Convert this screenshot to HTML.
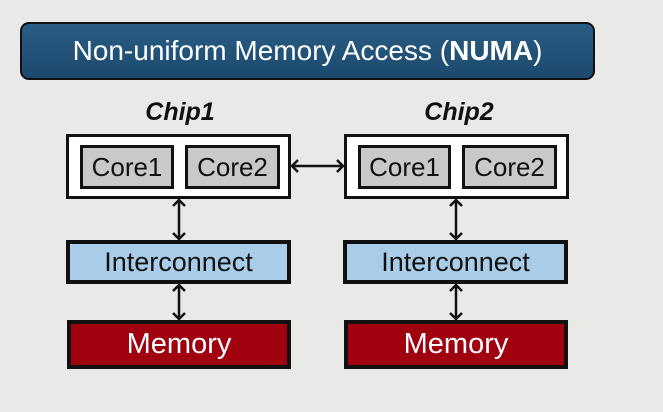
<!DOCTYPE html>
<html><head><meta charset="utf-8"><style>
body{margin:0;width:663px;height:412px;background:#e9e9e8;overflow:hidden;position:relative;font-family:"Liberation Sans","DejaVu Sans",sans-serif}
.a{position:absolute;box-sizing:border-box;display:flex;align-items:center;justify-content:center;white-space:nowrap}
.title{left:20px;top:22px;width:575px;height:58px;background:linear-gradient(#2a5c84,#1c4a6e);border:2px solid #111;border-radius:9px;color:#fff;font-size:28px}
.lbl{font-weight:bold;font-style:italic;font-size:25px;color:#111;width:224px;height:28px}
.chip{border:3px solid #111;background:#fff}
.core{border:3px solid #111;background:#c9c9c9;font-size:26px;color:#111}
.ic{border:4px solid #111;background:#a9cde8;font-size:27px;color:#111}
.mem{border:4px solid #111;background:#a1000f;font-size:29px;color:#fff}
</style></head><body>
<div class="a title">Non-uniform Memory Access (<b>NUMA</b>)</div>
<div class="a lbl" style="left:68px;top:98px">Chip1</div>
<div class="a lbl" style="left:347px;top:98px">Chip2</div>
<div class="a chip" style="left:66px;top:134px;width:225px;height:65px"></div>
<div class="a core" style="left:80px;top:145px;width:94px;height:44px">Core1</div>
<div class="a core" style="left:185px;top:145px;width:95px;height:44px">Core2</div>
<div class="a chip" style="left:344px;top:134px;width:225px;height:65px"></div>
<div class="a core" style="left:358px;top:145px;width:93px;height:44px">Core1</div>
<div class="a core" style="left:462px;top:145px;width:95px;height:44px">Core2</div>
<div class="a ic" style="left:66px;top:240px;width:225px;height:44px">Interconnect</div>
<div class="a ic" style="left:343px;top:240px;width:225px;height:44px">Interconnect</div>
<div class="a mem" style="left:67px;top:320px;width:224px;height:49px">Memory</div>
<div class="a mem" style="left:344px;top:320px;width:224px;height:49px">Memory</div>
<svg width="663" height="412" style="position:absolute;left:0;top:0" fill="none" stroke="#111" stroke-width="2.5">
<path d="M292 166H343M298 160l-6 6 6 6M337 160l6 6-6 6"/>
<path d="M179 200V239M173 206l6-6 6 6M173 233l6 6 6-6"/>
<path d="M179 285V319M173 291l6-6 6 6M173 313l6 6 6-6"/>
<path d="M456 200V239M450 206l6-6 6 6M450 233l6 6 6-6"/>
<path d="M456 285V319M450 291l6-6 6 6M450 313l6 6 6-6"/>
</svg>
</body></html>
